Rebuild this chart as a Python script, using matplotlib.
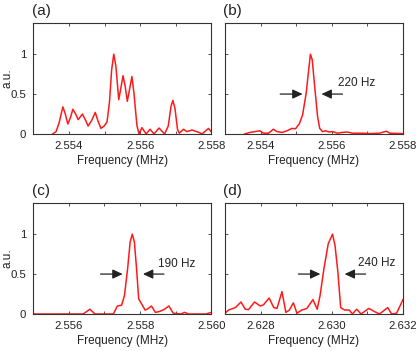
import numpy as np
from matplotlib import pyplot as plt

plt.rcParams['font.family'] = ['Liberation Sans', 'DejaVu Sans']

# panel (a): multi-peak spectrum
freq_a = [2.55354, 2.55364, 2.55373, 2.55383, 2.5539, 2.55397, 2.55404, 2.55411,
          2.55419, 2.55426, 2.55438, 2.55447, 2.55454, 2.55464, 2.55474, 2.55482,
          2.5549, 2.55499, 2.55507, 2.55514, 2.5552, 2.55526, 2.55532, 2.5554,
          2.55545, 2.55552, 2.55558, 2.55564, 2.5557, 2.55577, 2.55583, 2.55591,
          2.55597, 2.55605, 2.55617, 2.55628, 2.55639, 2.55653, 2.55669, 2.55679,
          2.55687, 2.55692, 2.55698, 2.55705, 2.5571, 2.55722, 2.55731, 2.55746,
          2.55765, 2.55774, 2.55792, 2.55803]
amp_a = [0.0, 0.03, 0.15, 0.34, 0.25, 0.125, 0.2, 0.31,
         0.25, 0.18, 0.25, 0.17, 0.10, 0.17, 0.27, 0.16,
         0.07, 0.10, 0.15, 0.4, 0.8, 1.0, 0.85, 0.43,
         0.55, 0.73, 0.6, 0.41, 0.55, 0.72, 0.5, 0.11,
         0.0, 0.08, 0.0, 0.06, 0.0, 0.075, 0.0, 0.1,
         0.35, 0.42, 0.32, 0.06, 0.01, 0.06, 0.03, 0.05,
         0.02, 0.0, 0.07, 0.01]

# panel (b)
freq_b = [2.55355, 2.55370, 2.55398, 2.55408, 2.55422, 2.55436, 2.55446, 2.5546,
          2.55474, 2.55488, 2.55498, 2.55509, 2.55518, 2.55528, 2.55534, 2.5554,
          2.55545, 2.55552, 2.5556, 2.55566, 2.55574, 2.55583, 2.55592, 2.55602,
          2.55616, 2.5563, 2.55644, 2.55658, 2.55687, 2.55706, 2.55734, 2.55753,
          2.55763, 2.558]
amp_b = [0.0, 0.02, 0.04, 0.01, 0.01, 0.06, 0.03, 0.02,
         0.04, 0.07, 0.065, 0.13, 0.24, 0.51, 0.76, 1.0,
         0.93, 0.59, 0.22, 0.07, 0.03, 0.04, 0.025, 0.03,
         0.01, 0.02, 0.025, 0.01, 0.01, 0.005, 0.01, 0.035,
         0.01, 0.005]

# panel (c)
freq_c = [2.555, 2.5564, 2.55659, 2.55673, 2.55725, 2.55736, 2.55748, 2.55756,
          2.55765, 2.55772, 2.55778, 2.55784, 2.5579, 2.55796, 2.55814, 2.5582,
          2.55832, 2.55843, 2.55853, 2.55867, 2.55881, 2.55893, 2.55914, 2.55925,
          2.55936, 2.55985, 2.56]
amp_c = [0.0, 0.0, 0.06, 0.0, 0.0, 0.1, 0.11, 0.23,
         0.57, 0.9, 1.0, 0.9, 0.57, 0.19, 0.05, 0.06,
         0.1, 0.02, 0.03, 0.055, 0.1, 0.01, 0.0, 0.02,
         0.0, 0.0, 0.02]

# panel (d)
freq_d = [2.627, 2.6271, 2.62729, 2.62745, 2.62757, 2.62766, 2.62783, 2.62799,
          2.62808, 2.62824, 2.62837, 2.62846, 2.6286, 2.62871, 2.62881, 2.62892,
          2.62902, 2.62916, 2.6293, 2.62947, 2.62959, 2.62967, 2.62978, 2.6299,
          2.63002, 2.63009, 2.63017, 2.63025, 2.63036, 2.63049, 2.63058, 2.6307,
          2.63082, 2.63104, 2.6312, 2.63134, 2.63157, 2.63168, 2.63182, 2.632]
amp_d = [0.01, 0.05, 0.08, 0.15, 0.06, 0.055, 0.15, 0.1,
         0.115, 0.2, 0.08, 0.07, 0.28, 0.02, 0.05, 0.14,
         0.01, 0.05, 0.07, 0.18, 0.06, 0.23, 0.57, 0.88,
         1.0, 0.86, 0.53, 0.08, 0.05, 0.05, 0.0, 0.06,
         0.0, 0.07, 0.03, 0.0, 0.08, 0.0, 0.01, 0.18]

panels = [
    ('(a)', freq_a, amp_a, (2.553, 2.558), None),
    ('(b)', freq_b, amp_b, (2.553, 2.558),
     ('220 Hz', (2.55455, 2.55518), (2.5563, 2.55571), (2.55617, 0.64))),
    ('(c)', freq_c, amp_c, (2.555, 2.560),
     ('190 Hz', (2.55689, 2.55751), (2.55867, 2.55808), (2.5585, 0.63))),
    ('(d)', freq_d, amp_d, (2.627, 2.632),
     ('240 Hz', (2.62906, 2.62968), (2.63095, 2.63036), (2.63073, 0.64))),
]

W, H = 416, 351
lefts = [33.3, 225]
tops = [23, 203]
aw, ah = 178, 111

fig = plt.figure(figsize=(W / 100, H / 100), dpi=100)
spine = '#333333'
for i, (lab, f, a, xl, ann) in enumerate(panels):
    l = lefts[i % 2]
    t = tops[i // 2]
    ax = fig.add_axes([l / W, 1 - (t + ah) / H, aw / W, ah / H])
    ax.plot(f, a, color='#ff1a1a', lw=1.1)
    ax.set_xlim(*xl)
    ax.set_ylim(0, 1.39)
    ticks = np.round(np.arange(xl[0], xl[1] + 1e-7, 0.001), 4)
    ax.set_xticks(ticks)
    ax.set_xticklabels([f'{v:.3f}' if round(v * 1000) % 2 == 0 else '' for v in ticks])
    ax.set_yticks([0, 0.5, 1])
    ax.set_yticklabels(['0', '0.5', '1'] if i % 2 == 0 else [])
    ax.tick_params(direction='in', top=True, right=True, length=2.5, width=0.6,
                   labelsize=8.2, pad=5, colors=spine, labelcolor='#222222')
    for s in ax.spines.values():
        s.set_color(spine)
        s.set_linewidth(0.8)
    ax.set_xlabel('Frequency (MHz)', fontsize=8.5, color='#222222', labelpad=3)
    if i % 2 == 0:
        ax.set_ylabel('a.u.', fontsize=8.5, color='#222222')
        ax.yaxis.set_label_coords(-0.11, 0.5)
    ax.text(-0.01, 1.045, lab, transform=ax.transAxes,
            fontsize=11, color='#222222', ha='left', va='bottom')
    if ann is not None:
        txt, la, ra, tp = ann
        kw = dict(arrowstyle='-|>,head_length=0.6,head_width=0.28', color='#222222', lw=0.9,
                  shrinkA=0, shrinkB=0)
        ax.annotate('', xy=(la[1], 0.5), xytext=(la[0], 0.5), arrowprops=kw)
        ax.annotate('', xy=(ra[1], 0.5), xytext=(ra[0], 0.5), arrowprops=kw)
        ax.text(tp[0], tp[1], txt, fontsize=8.5, color='#222222', ha='left', va='center')

fig.savefig('out.png', dpi=100)
plt.close(fig)
